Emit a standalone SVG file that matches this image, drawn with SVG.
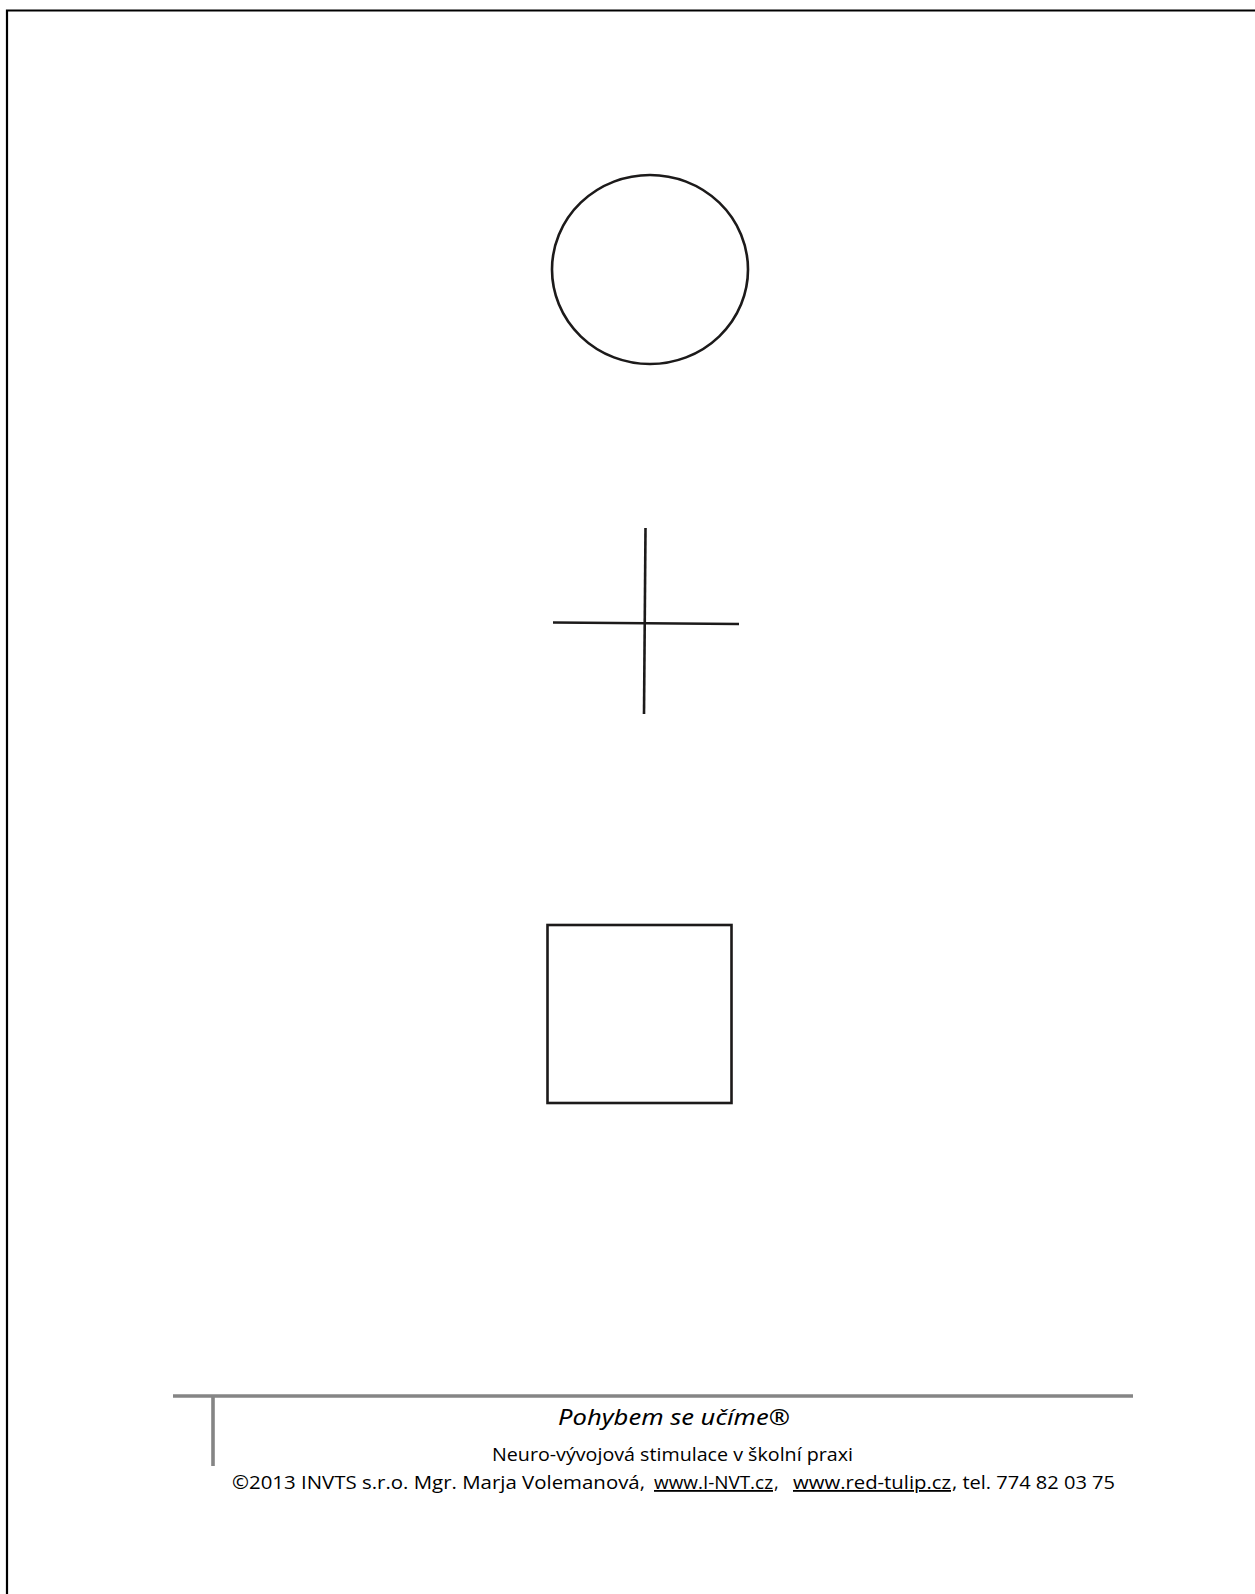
<svg xmlns="http://www.w3.org/2000/svg" width="1255" height="1594" viewBox="0 0 1255 1594">
<style>
.shape{fill:none;stroke:#1c1a1a;stroke-width:2.6}
.frame{fill:none;stroke:#000;stroke-width:2.2}
.rule{fill:none;stroke:#858585;stroke-width:3.6}
.foot{font-family:"Open Sans","Liberation Sans",sans-serif;font-size:18px;fill:#000}
.brand{font-family:"Noto Sans","DejaVu Sans",sans-serif;font-style:italic;font-size:21px;fill:#000}
</style>
<rect width="1255" height="1594" fill="#fff"/>
<g id="frame">
<path class="frame" d="M7,1594 V10.5 H1255"/>
</g>
<g id="circle">
<ellipse class="shape" cx="650" cy="269.5" rx="98" ry="94.5"/>
</g>
<g id="cross">
<path class="shape" d="M645.5,528 L644,714"/>
<path class="shape" d="M553,622.5 L739,624"/>
</g>
<g id="square">
<rect class="shape" x="547.5" y="925" width="184" height="178" stroke-width="3"/>
</g>
<g id="connectors"></g>
<g id="footer">
<path class="rule" d="M173,1396 H1133"/>
<path class="rule" d="M213,1396 V1466" stroke-width="3.8"/>
<text class="brand" x="558" y="1425" textLength="232" lengthAdjust="spacingAndGlyphs">Pohybem se učíme®</text>
<text class="foot" x="492" y="1461" textLength="361" lengthAdjust="spacingAndGlyphs">Neuro-vývojová stimulace v školní praxi</text>
<text class="foot" x="232" y="1489" textLength="413" lengthAdjust="spacingAndGlyphs">©2013 INVTS s.r.o. Mgr. Marja Volemanová,</text>
<text class="foot" x="654" y="1489" textLength="119" lengthAdjust="spacingAndGlyphs" text-decoration="underline">www.I-NVT.cz</text>
<text class="foot" x="774" y="1489">,</text>
<text class="foot" x="793" y="1489" textLength="158" lengthAdjust="spacingAndGlyphs" text-decoration="underline">www.red-tulip.cz</text>
<text class="foot" x="952" y="1489" textLength="163" lengthAdjust="spacingAndGlyphs">, tel. 774 82 03 75</text>
</g>
</svg>
